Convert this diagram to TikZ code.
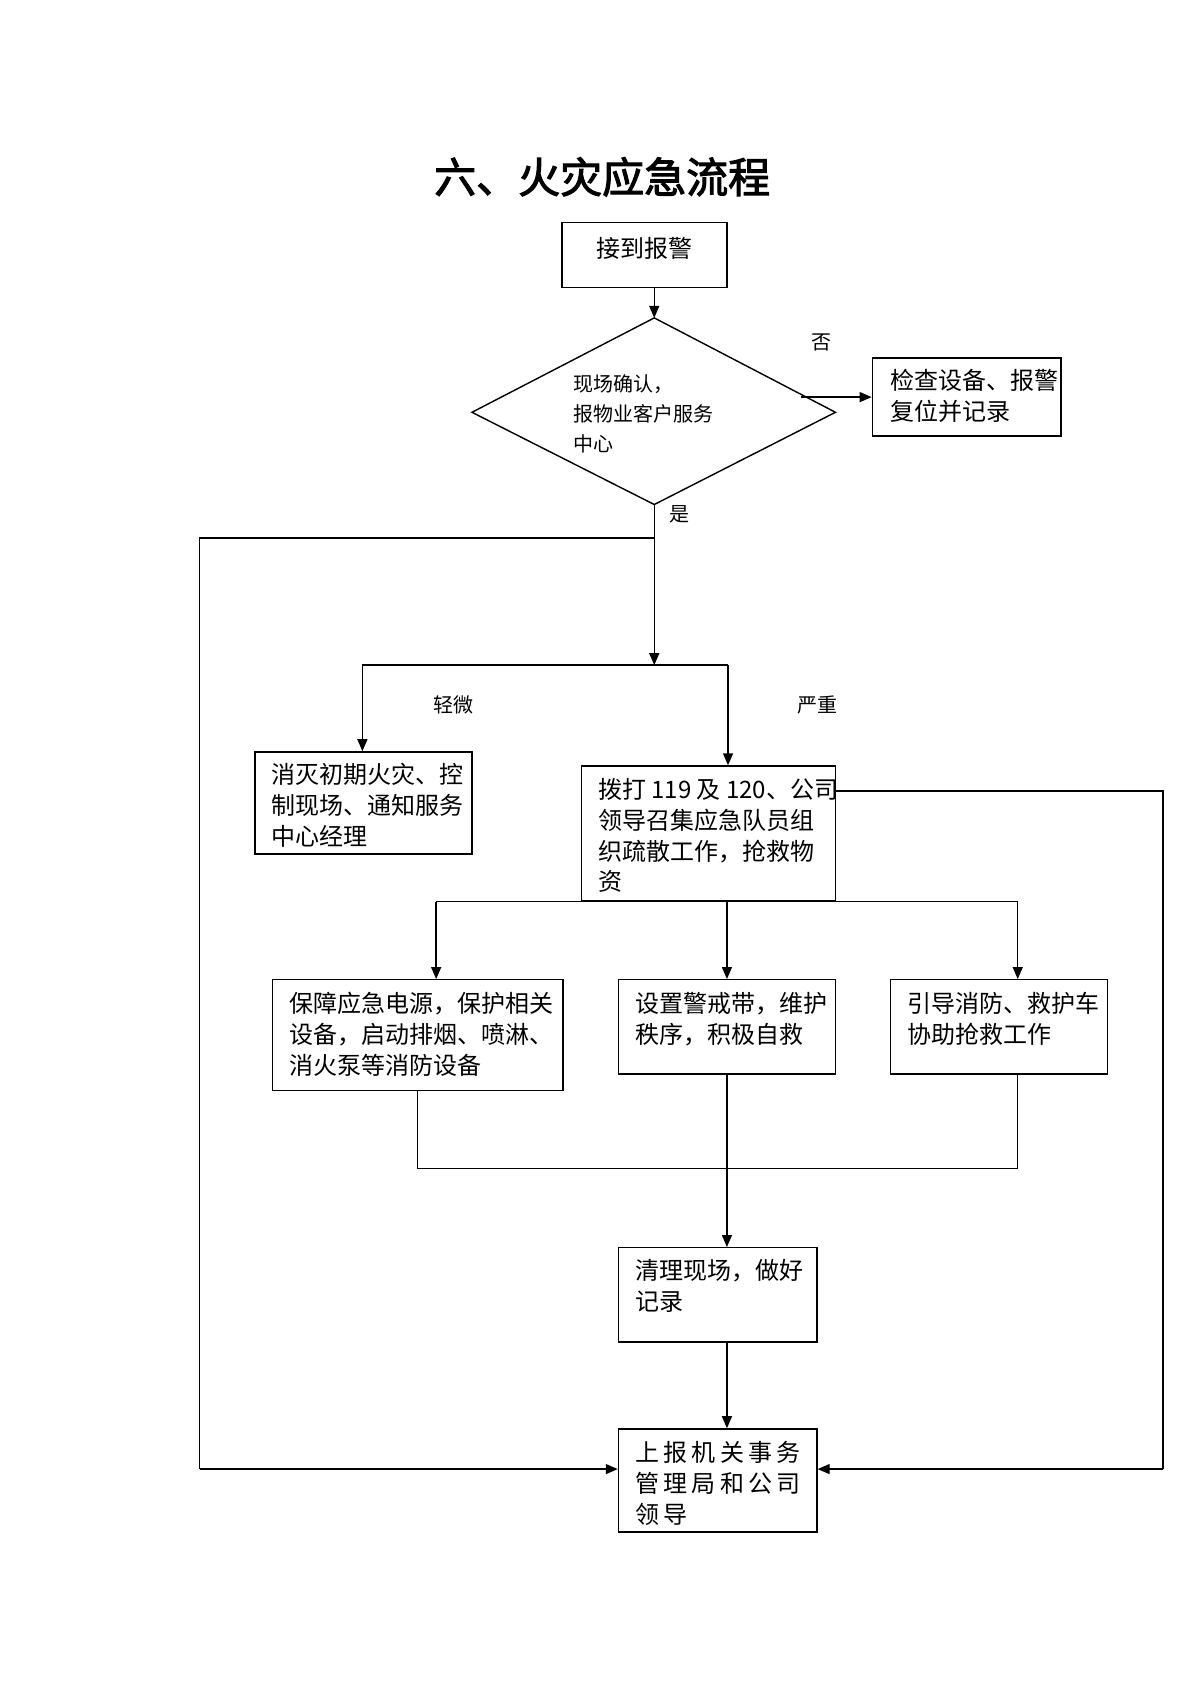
\documentclass[tikz,border=0pt]{standalone}
\usepackage{fontspec}
\setmainfont{Noto Sans CJK SC}[AutoFakeBold=2.5]
\usetikzlibrary{fit,arrows.meta}
\begin{document}
\begin{tikzpicture}[x=0.5425pt,y=-0.5425pt,
  bx/.style={draw,line width=0.7pt,inner sep=0pt},
  ln/.style={line width=0.7pt},
  ar/.style={ln,-{Triangle[length=6pt,width=5pt]}},
  tx/.style={anchor=north west,inner sep=0pt,align=left,font=\fontsize{12}{15.6}\selectfont},
  lb/.style={inner sep=0pt,font=\fontsize{10}{12}\selectfont}]
\useasboundingbox (0,0) rectangle (1106,1565);
\node[font=\fontsize{21}{24}\bfseries] (title) at (555,163) {六、火灾应急流程};
% boxes
\node[bx,fit={(518,205)(670,265)}] (b1) {};
\node[tx,anchor=center] (t1) at (594,229) {接到报警};
\coordinate (dl) at (435,380); \coordinate (dt) at (603,293);
\coordinate (dr) at (770,380); \coordinate (db) at (603,465);
\draw[ln] (dl)--(dt)--(dr)--(db)--cycle;
\node[tx,font=\fontsize{10}{15}\selectfont] (td) at (528,345) {现场确认，\\报物业客户服务\\中心};
\node[bx,fit={(804,330)(978,402)}] (b2) {};
\node[tx] (t2) at (820,340) {检查设备、报警\\复位并记录};
\node[bx,fit={(235,693)(435,787)}] (b3) {};
\node[tx] (t3) at (250,703) {消灭初期火灾、控\\制现场、通知服务\\中心经理};
\node[bx,fit={(536,706)(770,830)}] (b4) {};
\node[tx,font=\fontsize{12}{15.4}\selectfont] (t4) at (551,717) {拨打 119 及 120、公司\\领导召集应急队员组\\织疏散工作，抢救物\\资};
\node[bx,fit={(251,903)(519,1005)}] (b5) {};
\node[tx] (t5) at (266,914) {保障应急电源，保护相关\\设备，启动排烟、喷淋、\\消火泵等消防设备};
\node[bx,fit={(570,903)(770,990)}] (b6) {};
\node[tx] (t6) at (585,914) {设置警戒带，维护\\秩序，积极自救};
\node[bx,fit={(821,903)(1021,990)}] (b7) {};
\node[tx] (t7) at (836,914) {引导消防、救护车\\协助抢救工作};
\node[bx,fit={(570,1150)(753,1237)}] (b8) {};
\node[tx] (t8) at (585,1160) {清理现场，做好\\记录};
\node[bx,fit={(570,1317)(753,1412)}] (b9) {};
\node[tx,font=\fontsize{12}{15.4}\selectfont\addfontfeatures{LetterSpace=18}] (t9) at (585,1328) {上报机关事务\\管理局和公司\\领导};
% labels
\node[lb] (no) at (757,316) {否};
\node[lb] (yes) at (626,474) {是};
\node[lb] (minor) at (418,650) {轻微};
\node[lb] (major) at (753,650) {严重};
% connectors
\coordinate (c1) at (738,366);
\coordinate (c2) at (603,496);
\coordinate (c3) at (184,496);
\coordinate (c4) at (184,1354);
\coordinate (c5) at (603,613);
\coordinate (c6) at (334,613);
\coordinate (c7) at (671,613);
\coordinate (c8) at (1072,729);
\coordinate (c9) at (1072,1354);
\coordinate (c10) at (402,831);
\coordinate (c11) at (938,831);
\coordinate (c12) at (670,831);
\coordinate (c13) at (385,1077);
\coordinate (c14) at (938,1077);
\coordinate (c15) at (670,1077);
\draw[ar] (b1.south -| dt) -- (dt);
\draw[ar] (c1) -- (c1 -| b2.west);
\draw[ar] (db) -- (c5);
\draw[ln] (c2) -- (c3) -- (c4);
\draw[ar] (c4) -- (c4 -| b9.west);
\draw[ln] (c6) -- (c7);
\draw[ar] (c6) -- (c6 |- b3.north);
\draw[ar] (c7) -- (c7 |- b4.north);
\draw[ln] (b4.east |- 0,729) -- (c8) -- (c9);
\draw[ar] (c9) -- (c9 -| b9.east);
\draw[ln] (c10) -- (c11);
\draw[ar] (c10) -- (c10 |- b5.north);
\draw[ar] (c12) -- (c12 |- b6.north);
\draw[ar] (c11) -- (c11 |- b7.north);
\draw[ln] (c13 |- b5.south) -- (c13) -- (c14) -- (c14 |- b7.south);
\draw[ar] (c12 |- b6.south) -- (c12 |- b8.north);
\draw[ar] (c12 |- b8.south) -- (c12 |- b9.north);
\end{tikzpicture}
\end{document}
